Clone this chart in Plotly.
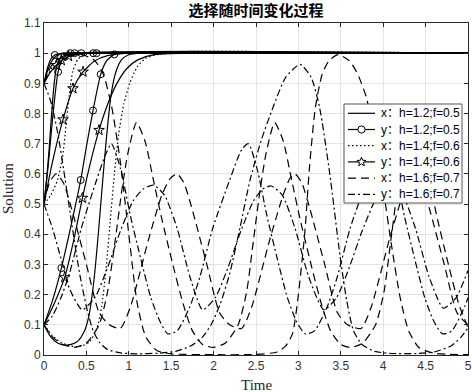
import math
import plotly.graph_objects as go

# ---------------- data ----------------
# h=1.2, f=0.5 : x (solid), y (circles)
T_X12_A = [0, 0.08, 0.16, 0.245, 0.33, 0.4, 0.47, 0.53, 0.59, 0.64, 0.69, 0.74, 0.79, 0.85, 0.92, 1.0, 1.15, 5]
V_X12_A = [0.1, 0.06, 0.04, 0.033, 0.036, 0.046, 0.075, 0.13, 0.25, 0.4, 0.57, 0.73, 0.86, 0.94, 0.98, 0.995, 1.0, 1.0]
T_X12_B = [0, 0.03, 0.06, 0.09, 0.12, 0.15, 0.2, 0.3, 5]
V_X12_B = [0.5, 0.58, 0.68, 0.8, 0.9, 0.955, 0.985, 0.998, 1.0]
T_X12_C = [0, 0.04, 0.08, 0.12, 0.18, 0.3, 5]
V_X12_C = [0.9, 0.94, 0.968, 0.985, 0.996, 1.0, 1.0]

T_Y12_A = [0, 0.1, 0.205, 0.32, 0.433, 0.5, 0.578, 0.669, 0.74, 0.83, 0.95, 5]
V_Y12_A = [0.1, 0.18, 0.288, 0.43, 0.58, 0.69, 0.81, 0.93, 0.975, 0.996, 1.0, 1.0]
T_Y12_B = [0, 0.05, 0.1, 0.166, 0.22, 0.26, 0.32, 0.38, 0.5, 5]
V_Y12_B = [0.5, 0.63, 0.78, 0.938, 0.98, 0.992, 0.998, 1.0, 1.0, 1.0]
T_Y12_C = [0, 0.04, 0.08, 0.127, 0.2, 0.3, 5]
V_Y12_C = [0.9, 0.95, 0.98, 0.994, 0.999, 1.0, 1.0]
T_Y12_MARK = [0.205, 0.433, 0.578, 0.669, 0.83, 0.166, 0.24, 0.36, 0.58, 0.127, 0.31, 0.44, 0.62]
V_Y12_MARK = [0.288, 0.58, 0.81, 0.93, 0.996, 0.938, 0.99, 1.0, 1.0, 0.994, 1.0, 1.0, 1.0]

# h=1.4, f=0.6 : x (dotted), y (stars)
T_X14_A = [0, 0.1, 0.2, 0.3, 0.38, 0.46, 0.54, 0.62, 0.68, 0.73, 0.78, 0.83, 0.88, 0.94, 1.01, 1.1, 1.2, 1.35, 5]
V_X14_A = [0.1, 0.064, 0.042, 0.031, 0.028, 0.031, 0.045, 0.085, 0.16, 0.28, 0.44, 0.6, 0.73, 0.83, 0.9, 0.955, 0.983, 0.996, 1.0]
T_X14_B = [0, 0.08, 0.16, 0.22, 0.26, 0.3, 0.34, 0.4, 0.5, 5]
V_X14_B = [0.5, 0.53, 0.58, 0.66, 0.76, 0.87, 0.94, 0.98, 0.996, 1.0]
T_X14_C = [0, 0.05, 0.1, 0.16, 0.25, 0.4, 5]
V_X14_C = [0.9, 0.93, 0.955, 0.975, 0.992, 0.999, 1.0]

T_Y14_A = [0, 0.12, 0.244, 0.35, 0.453, 0.55, 0.649, 0.75, 0.86, 0.98, 1.1, 1.3, 5]
V_Y14_A = [0.1, 0.17, 0.257, 0.38, 0.52, 0.64, 0.745, 0.83, 0.9, 0.95, 0.977, 0.995, 1.0]
T_Y14_B = [0, 0.1, 0.224, 0.342, 0.46, 0.6, 0.75, 0.95, 5]
V_Y14_B = [0.5, 0.64, 0.78, 0.883, 0.938, 0.975, 0.992, 0.999, 1.0]
T_Y14_C = [0, 0.07, 0.146, 0.205, 0.3, 0.45, 5]
V_Y14_C = [0.9, 0.935, 0.96, 0.976, 0.99, 0.998, 1.0]
T_Y14_MARK = [0.244, 0.453, 0.649, 0.224, 0.342, 0.46, 0.146, 0.205, 0.29]
V_Y14_MARK = [0.257, 0.52, 0.745, 0.78, 0.883, 0.938, 0.96, 0.976, 0.99]

# h=1.6, f=0.7 : x (dashed), y (dash-dot)
T_X16_A = [0, 0.1, 0.22, 0.36, 0.5, 0.65, 0.75, 0.84, 0.92, 0.99, 1.09, 1.19, 1.29, 1.39, 1.51, 1.64, 1.75, 1.87,
           2.0, 2.14, 2.29, 2.39, 2.47, 2.55, 2.62, 2.72, 2.82, 2.92, 3.02, 3.14, 3.27, 3.38, 3.5, 3.62, 3.76, 3.91,
           4.01, 4.09, 4.17, 4.24, 4.34, 4.44, 4.54, 4.64, 4.76, 4.89, 5.0]
V_X16_A = [0.1, 0.06, 0.035, 0.025, 0.04, 0.1, 0.21, 0.38, 0.55, 0.67, 0.77, 0.71, 0.58, 0.45, 0.31, 0.17, 0.08, 0.035,
           0.025, 0.04, 0.1, 0.21, 0.38, 0.55, 0.67, 0.77, 0.71, 0.58, 0.45, 0.31, 0.17, 0.08, 0.035, 0.025, 0.04, 0.1,
           0.21, 0.38, 0.55, 0.67, 0.77, 0.71, 0.58, 0.45, 0.31, 0.17, 0.09]
T_X16_B = [0, 0.07, 0.146, 0.23, 0.32, 0.5, 0.65, 0.77, 0.9, 1.02, 1.23, 1.39, 1.49, 1.57, 1.65, 1.74, 1.92, 2.07,
           2.19, 2.33, 2.45, 2.66, 2.82, 2.9, 2.96, 3.04, 3.13, 3.31, 3.46, 3.58, 3.74, 3.86, 4.07, 4.23, 4.31, 4.37,
           4.45, 4.54, 4.72, 4.87, 5.0]
V_X16_B = [0.5, 0.575, 0.6, 0.57, 0.49, 0.3, 0.14, 0.1, 0.088, 0.16, 0.38, 0.53, 0.585, 0.6, 0.57, 0.49, 0.3, 0.14,
           0.1, 0.088, 0.16, 0.38, 0.53, 0.585, 0.6, 0.57, 0.49, 0.3, 0.14, 0.1, 0.088, 0.16, 0.38, 0.53, 0.585, 0.6,
           0.57, 0.49, 0.3, 0.14, 0.1]
T_X16_C = [0, 0.08, 0.16, 0.3, 0.45, 0.6, 0.7, 0.8, 0.9, 1.0, 1.1, 1.2, 1.33, 1.5, 2.0, 2.5, 2.75, 2.85, 2.93, 3.0,
           3.08, 3.13, 3.2, 3.28, 3.36, 3.47, 3.6, 3.7, 3.8, 3.9, 4.0, 4.1, 4.2, 4.3, 4.42, 4.6, 5.0]
V_X16_C = [0.9, 0.955, 0.98, 0.993, 0.995, 0.975, 0.93, 0.82, 0.64, 0.4, 0.17, 0.06, 0.015, 0.004, 0.001, 0.002, 0.01,
           0.03, 0.07, 0.2, 0.42, 0.62, 0.82, 0.93, 0.975, 0.995, 0.975, 0.93, 0.855, 0.72, 0.55, 0.36, 0.19, 0.08,
           0.025, 0.006, 0.001]

T_Y16_A = [0, 0.1, 0.2, 0.3, 0.44, 0.62, 0.72, 0.795, 0.9, 1.02, 1.14, 1.26, 1.37, 1.46, 1.57, 1.72, 1.84, 1.99,
           2.19, 2.33, 2.41, 2.51, 2.63, 2.75, 2.87, 2.98, 3.08, 3.19, 3.34, 3.46, 3.61, 3.81, 3.95, 4.03, 4.13, 4.25,
           4.37, 4.49, 4.6, 4.7, 4.81, 4.96, 5.0]
V_Y16_A = [0.1, 0.13, 0.19, 0.27, 0.42, 0.58, 0.66, 0.7, 0.62, 0.46, 0.32, 0.19, 0.11, 0.07, 0.08, 0.16, 0.26, 0.42,
           0.58, 0.68, 0.7, 0.62, 0.46, 0.32, 0.19, 0.11, 0.07, 0.08, 0.16, 0.26, 0.42, 0.58, 0.68, 0.7, 0.62, 0.46,
           0.32, 0.19, 0.11, 0.07, 0.08, 0.16, 0.19]
T_Y16_B = [0, 0.1, 0.2, 0.3, 0.45, 0.6, 0.75, 0.9, 1.05, 1.17, 1.29, 1.42, 1.57, 1.72, 1.87, 2.02, 2.17, 2.32, 2.47,
           2.58, 2.68, 2.81, 2.96, 3.12, 3.3, 3.45, 3.6, 3.75, 3.9, 4.0, 4.1, 4.23, 4.38, 4.54, 4.71, 4.86, 5.0]
V_Y16_B = [0.5, 0.42, 0.32, 0.22, 0.15, 0.19, 0.29, 0.41, 0.51, 0.55, 0.563, 0.53, 0.42, 0.26, 0.15, 0.19, 0.29, 0.41,
           0.51, 0.55, 0.56, 0.53, 0.42, 0.26, 0.15, 0.19, 0.29, 0.41, 0.51, 0.55, 0.56, 0.53, 0.42, 0.26, 0.155,
           0.19, 0.28]
T_Y16_C = [0, 0.08, 0.166, 0.25, 0.33, 0.42, 0.5, 0.58, 0.66, 0.75, 0.9, 1.1, 1.35, 1.55, 1.73, 1.87, 1.97, 2.08,
           2.19, 2.31, 2.43, 2.56, 2.7, 2.85, 3.02, 3.15, 3.25, 3.37, 3.49, 3.57, 3.65, 3.75, 3.9, 4.1, 4.4, 4.6, 4.8,
           4.92, 5.0]
V_Y16_C = [0.9, 0.84, 0.73, 0.58, 0.43, 0.27, 0.16, 0.08, 0.04, 0.018, 0.007, 0.004, 0.006, 0.012, 0.03, 0.06, 0.1,
           0.17, 0.27, 0.42, 0.58, 0.71, 0.82, 0.92, 0.963, 0.92, 0.82, 0.6, 0.33, 0.18, 0.08, 0.035, 0.012, 0.005,
           0.005, 0.01, 0.03, 0.06, 0.09]

LEGEND_NAMES = ["x：h=1.2;f=0.5", "y：h=1.2;f=0.5", "x：h=1.4;f=0.6",
                "y：h=1.4;f=0.6", "x：h=1.6;f=0.7", "y：h=1.6;f=0.7"]
TITLE = "选择随时间变化过程"
X_LABEL = "Time"
Y_LABEL = "Solution"
X_TICKS = [0, 0.5, 1, 1.5, 2, 2.5, 3, 3.5, 4, 4.5, 5]
Y_TICKS = [0, 0.1, 0.2, 0.3, 0.4, 0.5, 0.6, 0.7, 0.8, 0.9, 1, 1.1]

# ---------------- layout geometry (pixels) ----------------
W, H = 472, 392
ML, MR, MT, MB = 44, 4, 23, 37
PW, PH = W - ML - MR, H - MT - MB


def px(x):  # pixel x -> paper x
    return (x - ML) / PW


def py(y):  # pixel y -> paper y
    return (H - MB - y) / PH


# ---------------- styles ----------------
LW = 1.2
DASH_SOLID = "solid"
DASH_DOT = "1.5px,2.5px"
DASH_DASH = "8px,5px"
DASH_DASHDOT = "7px,3px,2px,3px"

fig = go.Figure()


def add_curve(t, v, dash):
    fig.add_trace(go.Scatter(x=t, y=v, mode="lines", showlegend=False, hoverinfo="skip",
                             line=dict(color="black", width=LW, dash=dash, shape="spline", smoothing=0.6)))


for t, v in [(T_X12_A, V_X12_A), (T_X12_B, V_X12_B), (T_X12_C, V_X12_C),
             (T_Y12_A, V_Y12_A), (T_Y12_B, V_Y12_B), (T_Y12_C, V_Y12_C),
             (T_Y14_A, V_Y14_A), (T_Y14_B, V_Y14_B), (T_Y14_C, V_Y14_C)]:
    add_curve(t, v, DASH_SOLID)
for t, v in [(T_X14_A, V_X14_A), (T_X14_B, V_X14_B), (T_X14_C, V_X14_C)]:
    add_curve(t, v, DASH_DOT)
for t, v in [(T_X16_A, V_X16_A), (T_X16_B, V_X16_B), (T_X16_C, V_X16_C)]:
    add_curve(t, v, DASH_DASH)
for t, v in [(T_Y16_A, V_Y16_A), (T_Y16_B, V_Y16_B), (T_Y16_C, V_Y16_C)]:
    add_curve(t, v, DASH_DASHDOT)

fig.add_trace(go.Scatter(x=T_Y12_MARK, y=V_Y12_MARK, mode="markers", showlegend=False, hoverinfo="skip",
                         marker=dict(symbol="circle-open", size=7, color="black", line=dict(width=1))))
fig.add_trace(go.Scatter(x=T_Y14_MARK, y=V_Y14_MARK, mode="markers", showlegend=False, hoverinfo="skip",
                         marker=dict(symbol="star-open", size=8, color="black", line=dict(width=1))))

# ---------------- hand-built legend (MATLAB-like compact box) ----------------
LEG_X0, LEG_X1, LEG_Y0, LEG_Y1 = 344, 462, 104, 203
ROW_Y0, ROW_DY = 113.3, 16.2
SAMPLE_X0, SAMPLE_X1, TEXT_X = 348, 375, 379
leg_styles = [(DASH_SOLID, None), (DASH_SOLID, "circle"), (DASH_DOT, None),
              (DASH_SOLID, "star"), (DASH_DASH, None), (DASH_DASHDOT, None)]

shapes = [dict(type="rect", xref="paper", yref="paper", layer="above",
               x0=px(LEG_X0), x1=px(LEG_X1), y0=py(LEG_Y1), y1=py(LEG_Y0),
               fillcolor="white", line=dict(color="#555555", width=1))]
annotations = []
for i, (name, (dash, sym)) in enumerate(zip(LEGEND_NAMES, leg_styles)):
    ry = ROW_Y0 + i * ROW_DY
    shapes.append(dict(type="line", xref="paper", yref="paper", layer="above",
                       x0=px(SAMPLE_X0), x1=px(SAMPLE_X1), y0=py(ry), y1=py(ry),
                       line=dict(color="black", width=LW, dash=dash)))
    cx = (SAMPLE_X0 + SAMPLE_X1) / 2
    if sym == "circle":
        r = 3.6
        shapes.append(dict(type="circle", xref="paper", yref="paper", layer="above",
                           x0=px(cx - r), x1=px(cx + r), y0=py(ry + r), y1=py(ry - r),
                           fillcolor="white", line=dict(color="black", width=1)))
    elif sym == "star":
        ro, ri = 4.8, 2.0
        pts = []
        for k in range(10):
            ang = -math.pi / 2 + k * math.pi / 5
            rr = ro if k % 2 == 0 else ri
            pts.append((px(cx + rr * math.cos(ang)), py(ry + rr * math.sin(ang))))
        path = "M " + " L ".join(f"{a:.5f},{b:.5f}" for a, b in pts) + " Z"
        shapes.append(dict(type="path", xref="paper", yref="paper", layer="above", path=path,
                           fillcolor="white", line=dict(color="black", width=1)))
    annotations.append(dict(text=name, x=px(TEXT_X), y=py(ry), xref="paper", yref="paper",
                            xanchor="left", yanchor="middle", showarrow=False,
                            font=dict(family="Liberation Sans, Noto Sans CJK SC, sans-serif", size=12,
                                      color="black")))

label_font = dict(family="Liberation Serif, Times New Roman, serif", size=15, color="#262626")
annotations.append(dict(text=X_LABEL, x=0.5, xref="paper", y=py(385), yref="paper",
                        xanchor="center", yanchor="middle", showarrow=False, font=label_font))
annotations.append(dict(text=Y_LABEL, x=px(8), xref="paper", y=py(189), yref="paper",
                        xanchor="center", yanchor="middle", textangle=-90, showarrow=False, font=label_font))

axis_common = dict(showgrid=True, gridcolor="#e3e3e3", gridwidth=1, zeroline=False, automargin=False,
                   showline=True, linecolor="#262626", linewidth=1, mirror="ticks",
                   ticks="inside", ticklen=4, tickcolor="#262626",
                   tickfont=dict(family="Liberation Sans, Arial, sans-serif", size=12, color="#333333"))

fig.update_layout(
    width=W, height=H,
    margin=dict(l=ML, r=MR, t=MT, b=MB),
    paper_bgcolor="white", plot_bgcolor="white",
    title=dict(text="<b>" + TITLE + "</b>", x=0.5, xref="paper", y=1 - 11 / H, yref="container",
               xanchor="center", yanchor="middle",
               font=dict(family="Noto Sans CJK SC, sans-serif", size=15, color="black")),
    xaxis=dict(range=[0, 5], tickvals=X_TICKS, **axis_common),
    yaxis=dict(range=[0, 1.1], tickvals=Y_TICKS, **axis_common),
    showlegend=False,
    shapes=shapes,
    annotations=annotations,
)

fig.write_html("out.html", config={"displayModeBar": False},
               post_script="document.body.style.margin='0';document.body.style.overflow='hidden';")
